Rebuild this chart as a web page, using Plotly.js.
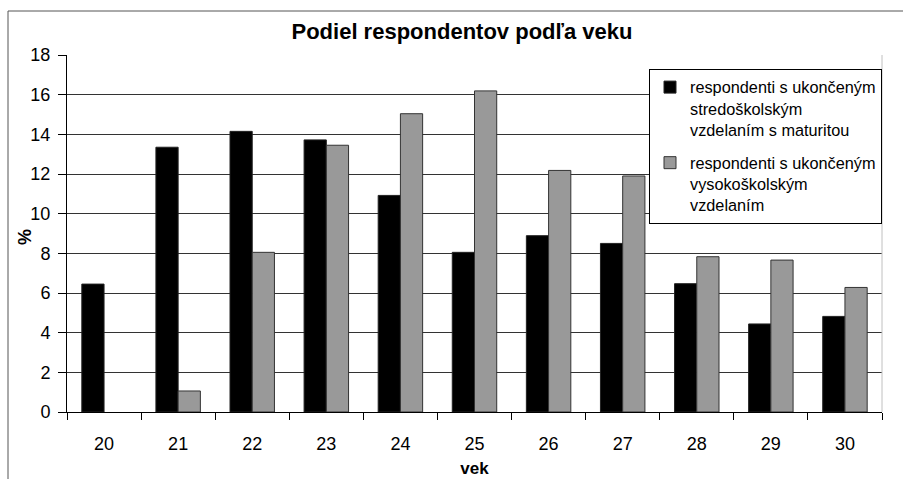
<!DOCTYPE html>
<html>
<head>
<meta charset="utf-8">
<script src="https://cdn.plot.ly/plotly-3.0.1.min.js"></script>
<style>html,body{margin:0;padding:0;background:#fff;}#chart{width:903px;height:479px;}</style>
</head>
<body>
<div id="chart"></div>
<script>
var ages = ["20", "21", "22", "23", "24", "25", "26", "27", "28", "29", "30"];
var stredoskolske = [6.45, 13.35, 14.15, 13.72, 10.92, 8.05, 8.89, 8.50, 6.47, 4.44, 4.82];
var vysokoskolske = [null, 1.06, 8.05, 13.45, 15.04, 16.19, 12.18, 11.90, 7.83, 7.66, 6.28];
var seriesNames = [
  "respondenti s ukončeným<br>stredoškolským<br>vzdelaním s maturitou",
  "respondenti s ukončeným<br>vysokoškolským<br>vzdelaním"
];
var yTicks = [0, 2, 4, 6, 8, 10, 12, 14, 16, 18];

var FONT = "Liberation Sans, Arial, sans-serif";

var traces = [
  {type: "bar", x: ages, y: stredoskolske, name: seriesNames[0], legendgroup: "a",
   marker: {color: "#000000", line: {color: "#222222", width: 1}}},
  {type: "bar", x: ages, y: vysokoskolske, name: seriesNames[1], legendgroup: "b",
   marker: {color: "#999999", line: {color: "#333333", width: 1}}}
];

var layout = {
  width: 903, height: 479,
  margin: {l: 67, r: 21, t: 55, b: 67},
  paper_bgcolor: "#ffffff", plot_bgcolor: "#ffffff",
  font: {family: FONT, color: "#000000", size: 18},
  title: {text: "<b>Podiel respondentov podľa veku</b>", font: {family: FONT, size: 22, color: "#000"},
          x: 462/903, xref: "container", xanchor: "center", y: 1 - 31/479, yref: "container", yanchor: "middle"},
  barmode: "group", bargap: 0.4, bargroupgap: 0,
  xaxis: {type: "category", categoryorder: "array", categoryarray: ages,
          tickson: "boundaries", ticks: "outside", ticklen: 7, tickcolor: "#000", tickwidth: 1,
          showline: true, linecolor: "#000", linewidth: 1, showgrid: false,
          tickfont: {size: 18}, ticklabelstandoff: 15,
          title: {text: "<b>vek</b>", font: {size: 17}, standoff: 9}},
  yaxis: {range: [0, 18], tickvals: yTicks, ticktext: yTicks.map(String),
          ticks: "outside", ticklen: 8, tickcolor: "#000", tickwidth: 1,
          showline: true, linecolor: "#000", linewidth: 1,
          showgrid: true, gridcolor: "#333333", gridwidth: 1, zeroline: false,
          tickfont: {size: 18}, ticklabelstandoff: 4},
  legend: {x: (649-67)/815, y: (412-69)/357, xanchor: "left", yanchor: "top",
           bgcolor: "#ffffff", bordercolor: "#000000", borderwidth: 1,
           font: {family: FONT, size: 16.3, color: "#000"}, tracegroupgap: 9,
           traceorder: "grouped", valign: "top", itemwidth: 30},
  annotations: [
    {text: "<b>%</b>", xref: "paper", yref: "paper", x: (25-67)/815, y: 0.49,
     xanchor: "center", yanchor: "middle", textangle: -90, showarrow: false,
     font: {family: FONT, size: 18, color: "#000"}}
  ],
  shapes: [
    {type: "line", xref: "paper", yref: "paper", x0: 1, x1: 1, y0: 0, y1: 1,
     line: {color: "#c0c0c0", width: 1}},
    {type: "rect", xref: "paper", yref: "paper", x0: (8-67)/815, x1: 1.06, y0: -0.25, y1: (412-11)/357,
     line: {color: "#555555", width: 1}, fillcolor: "rgba(0,0,0,0)", layer: "below"}
  ],
  showlegend: true
};

Plotly.newPlot("chart", traces, layout, {displayModeBar: false, staticPlot: true});
</script>
</body>
</html>
